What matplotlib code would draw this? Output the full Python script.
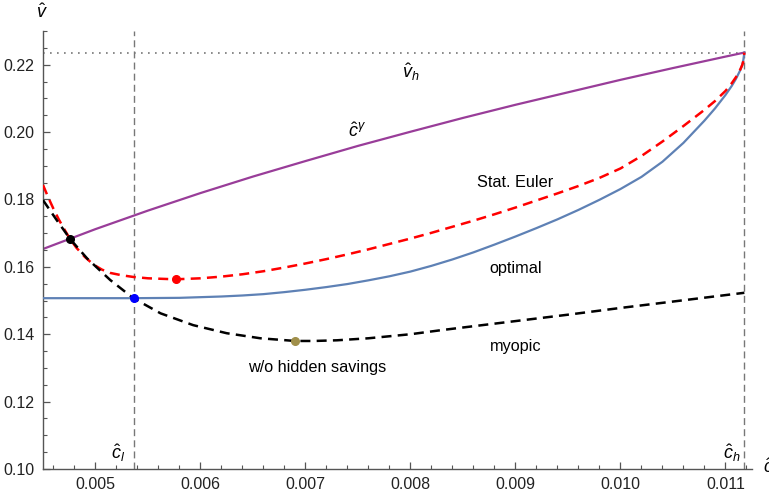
import numpy as np
import matplotlib
matplotlib.use("Agg")
import matplotlib.pyplot as plt
from matplotlib.ticker import MultipleLocator, FormatStrFormatter

plt.rcParams['font.family'] = ['Liberation Sans', 'DejaVu Sans']
plt.rcParams['mathtext.fontset'] = 'custom'
plt.rcParams['mathtext.rm'] = 'Liberation Sans'
plt.rcParams['mathtext.it'] = 'Liberation Sans:italic'

# valori
c_l = 0.005362
c_h = 0.01118
v_h = 0.2236

c_gamma_x = [0.0045, 0.005, 0.0055, 0.006, 0.0065, 0.007, 0.0075, 0.008,
             0.0085, 0.009, 0.0095, 0.010, 0.0105, 0.011, 0.01118]
c_gamma_y = [0.1653, 0.1712, 0.1767, 0.1819, 0.1868, 0.1914, 0.1959, 0.2001,
             0.2042, 0.2081, 0.2118, 0.2155, 0.2190, 0.2224, 0.2236]

euler_x = [0.0045, 0.00455, 0.0046, 0.00465, 0.0047, 0.004759, 0.00482, 0.0049,
           0.00498, 0.00506, 0.00514, 0.00525, 0.00536, 0.0055, 0.00576, 0.0060,
           0.0062, 0.0064, 0.0066, 0.0068, 0.0070, 0.0072, 0.0074, 0.0076,
           0.0078, 0.0080, 0.0082, 0.0084, 0.0086, 0.0088, 0.0090, 0.0092,
           0.0094, 0.0096, 0.0098, 0.0100, 0.0102, 0.0104, 0.0106, 0.0108,
           0.0109, 0.0110, 0.01106, 0.0111, 0.01114, 0.01116, 0.01117, 0.01118]
euler_y = [0.1843, 0.1806, 0.1772, 0.1741, 0.1713, 0.1682, 0.1656, 0.1629,
           0.1607, 0.1592, 0.1582, 0.1575, 0.1570, 0.1566, 0.1563, 0.1566,
           0.1571, 0.1578, 0.1587, 0.1598, 0.1610, 0.1623, 0.1637, 0.1652,
           0.1668, 0.1684, 0.1701, 0.1719, 0.1737, 0.1756, 0.1776, 0.1797,
           0.1818, 0.1840, 0.1864, 0.1892, 0.1929, 0.1972, 0.2018, 0.2066,
           0.2092, 0.2122, 0.2145, 0.2163, 0.2185, 0.2199, 0.2210, 0.2236]

optimal_x = [0.0045, 0.0050, 0.00536, 0.0058, 0.0060, 0.0062, 0.0064, 0.0066,
             0.0068, 0.0070, 0.0072, 0.0074, 0.0076, 0.0078, 0.0080, 0.0082,
             0.0084, 0.0086, 0.0088, 0.0090, 0.0092, 0.0094, 0.0096, 0.0098,
             0.0100, 0.0102, 0.0104, 0.0106, 0.0108, 0.0109, 0.0110, 0.01106,
             0.0111, 0.01114, 0.01116, 0.01117, 0.01118]
optimal_y = [0.1507, 0.1507, 0.1507, 0.1508, 0.1510, 0.1512, 0.1515, 0.1519,
             0.1525, 0.1532, 0.1540, 0.1549, 0.1560, 0.1572, 0.1586, 0.1603,
             0.1622, 0.1643, 0.1666, 0.1690, 0.1715, 0.1741, 0.1769, 0.1799,
             0.1831, 0.1867, 0.1912, 0.1968, 0.2034, 0.2070, 0.2110, 0.2137,
             0.2158, 0.2183, 0.2200, 0.2213, 0.2236]

myopic_x = [0.0045, 0.00463, 0.00476, 0.00492, 0.00514, 0.00536, 0.00562, 0.00593,
            0.00625, 0.00657, 0.0069, 0.00708, 0.0073, 0.0076, 0.0080, 0.00829,
            0.0085, 0.0090, 0.0095, 0.0098, 0.0100, 0.0105, 0.01118]
myopic_y = [0.1798, 0.1739, 0.1682, 0.1625, 0.1561, 0.1507, 0.1462, 0.1427,
            0.1403, 0.1388, 0.1380, 0.1380, 0.1382, 0.1388, 0.1400, 0.1412,
            0.1420, 0.1439, 0.1458, 0.1470, 0.1478, 0.1497, 0.1523]

# punti evidenziati
dot_black = (0.004759, 0.1682)
dot_blue = (0.005362, 0.1507)
dot_red = (0.005762, 0.1563)
dot_olive = (0.006902, 0.1380)

fig = plt.figure(figsize=(7.69, 4.96), dpi=100)
ax = fig.add_axes([43 / 769, 27 / 496, (751.7 - 43) / 769, (469 - 31) / 496])

ax.set_xlim(0.0045, 0.01125)
ax.set_ylim(0.10, 0.23)

# linee di riferimento
ax.axvline(c_l, color='#777777', lw=1.0, dashes=(5, 3), zorder=1)
ax.axvline(c_h, color='#777777', lw=1.0, dashes=(5, 3), zorder=1)
ax.plot([0.0045, c_h], [v_h, v_h], color='#777777', lw=1.2, dashes=(1, 3.2), zorder=1)

ax.plot(c_gamma_x, c_gamma_y, color='#993d99', lw=1.6, zorder=2)
ax.plot(optimal_x, optimal_y, color='#5e81b5', lw=1.6, zorder=3)
ax.plot(euler_x, euler_y, color='red', lw=1.8, dashes=(4, 2.5), zorder=4)
ax.plot(myopic_x, myopic_y, color='black', lw=1.8, dashes=(4, 2.5), zorder=4)

ax.plot(*dot_black, 'o', color='black', ms=5.5, zorder=5)
ax.plot(*dot_blue, 'o', color='blue', ms=5.5, zorder=5)
ax.plot(*dot_red, 'o', color='red', ms=5.5, zorder=5)
ax.plot(*dot_olive, 'o', color='#a08f4a', ms=5.5, zorder=5)

# etichette
ax.text(0.007495, 0.2000, r'$\hat{c}^{\gamma}$', fontsize=13, ha='center', va='center')
ax.text(0.0080, 0.2178, r'$\hat{v}_h$', fontsize=13, ha='center', va='center')
ax.text(0.0090, 0.1849, 'Stat. Euler', fontsize=11.7, ha='center', va='center')
ax.text(0.0090, 0.1596, 'optimal', fontsize=11.7, ha='center', va='center')
ax.text(0.0090, 0.1365, 'myopic', fontsize=11.7, ha='center', va='center')
ax.text(0.007114, 0.1300, 'w/o hidden savings', fontsize=11.7, ha='center', va='center')
ax.text(0.005219, 0.1047, r'$\hat{c}_l$', fontsize=13, ha='center', va='center')
ax.text(0.011057, 0.1047, r'$\hat{c}_h$', fontsize=13, ha='center', va='center')
ax.text(0.01136, 0.1003, r'$\hat{c}$', fontsize=13, ha='left', va='center', clip_on=False)
ax.text(0.00449, 0.2356, r'$\hat{v}$', fontsize=13, ha='center', va='center', clip_on=False)

# assi stile Mathematica
for s in ['top', 'right']:
    ax.spines[s].set_visible(False)
for s in ['left', 'bottom']:
    ax.spines[s].set_color('#555555')
    ax.spines[s].set_linewidth(1.0)

ax.xaxis.set_major_locator(MultipleLocator(0.001))
ax.xaxis.set_minor_locator(MultipleLocator(0.0002))
ax.yaxis.set_major_locator(MultipleLocator(0.02))
ax.yaxis.set_minor_locator(MultipleLocator(0.005))
ax.xaxis.set_major_formatter(FormatStrFormatter('%.3f'))
ax.yaxis.set_major_formatter(FormatStrFormatter('%.2f'))
ax.tick_params(which='both', direction='in', color='#555555', labelsize=11.5,
               labelcolor='#222222')
ax.tick_params(which='major', length=5, width=0.9, pad=6)
ax.tick_params(which='minor', length=3, width=0.8)

fig.savefig('out.png', dpi=100)
